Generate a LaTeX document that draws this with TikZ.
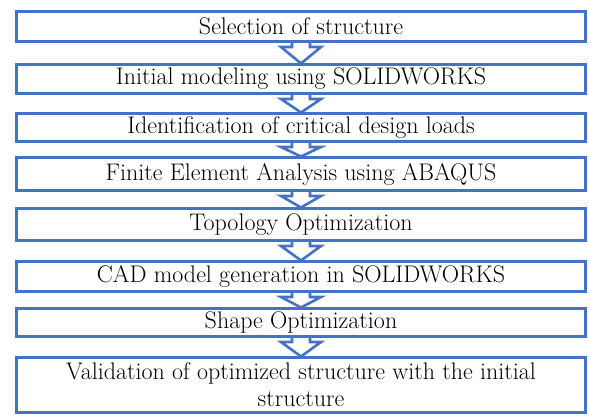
\documentclass[tikz,border=0pt]{standalone}
\usepackage{fontspec}
\setmainfont{Latin Modern Roman}
\usetikzlibrary{positioning}
\definecolor{boxblue}{HTML}{4472C4}
\begin{document}
\begin{tikzpicture}[x=1pt,y=-1pt,
  stepbox/.style={draw=boxblue, line width=3pt, fill=none, rectangle,
    minimum width=569pt, inner sep=0pt, align=center,
    font=\fontsize{24}{27}\selectfont},
  blockarr/.style={draw=boxblue, line width=2.6pt, line join=miter}
]
\useasboundingbox (0,0) rectangle (589,416);
\node[stepbox, minimum height=30pt] (b1) at (301,26.5) {Selection of structure};
\node[stepbox, minimum height=29pt] (b2) at (301,79) {Initial modeling using SOLIDWORKS};
\node[stepbox, minimum height=28pt] (b3) at (301,127.5) {Identification of critical design loads};
\node[stepbox, minimum height=33pt] (b4) at (301,174) {Finite Element Analysis using ABAQUS};
\node[stepbox, minimum height=32pt] (b5) at (301,224.5) {Topology Optimization};
\node[stepbox, minimum height=30pt] (b6) at (301,276.5) {CAD model generation in SOLIDWORKS};
\node[stepbox, minimum height=28pt] (b7) at (301,322.5) {Shape Optimization};
\node[stepbox, minimum height=55pt] (b8) at (301,385) {Validation of optimized structure with the initial\\structure};
\foreach \a/\b in {b1/b2,b2/b3,b3/b4,b4/b5,b5/b6,b6/b7,b7/b8}{
  \draw[blockarr] ([xshift=-9pt]\a.south) -- ([xshift=-9pt,yshift=-4pt]\a.south)
    -- ([xshift=-20pt,yshift=-4pt]\a.south) -- ([yshift=-0.5pt]\b.north)
    -- ([xshift=20pt,yshift=-4pt]\a.south) -- ([xshift=9pt,yshift=-4pt]\a.south)
    -- ([xshift=9pt]\a.south);
}
\end{tikzpicture}
\end{document}
